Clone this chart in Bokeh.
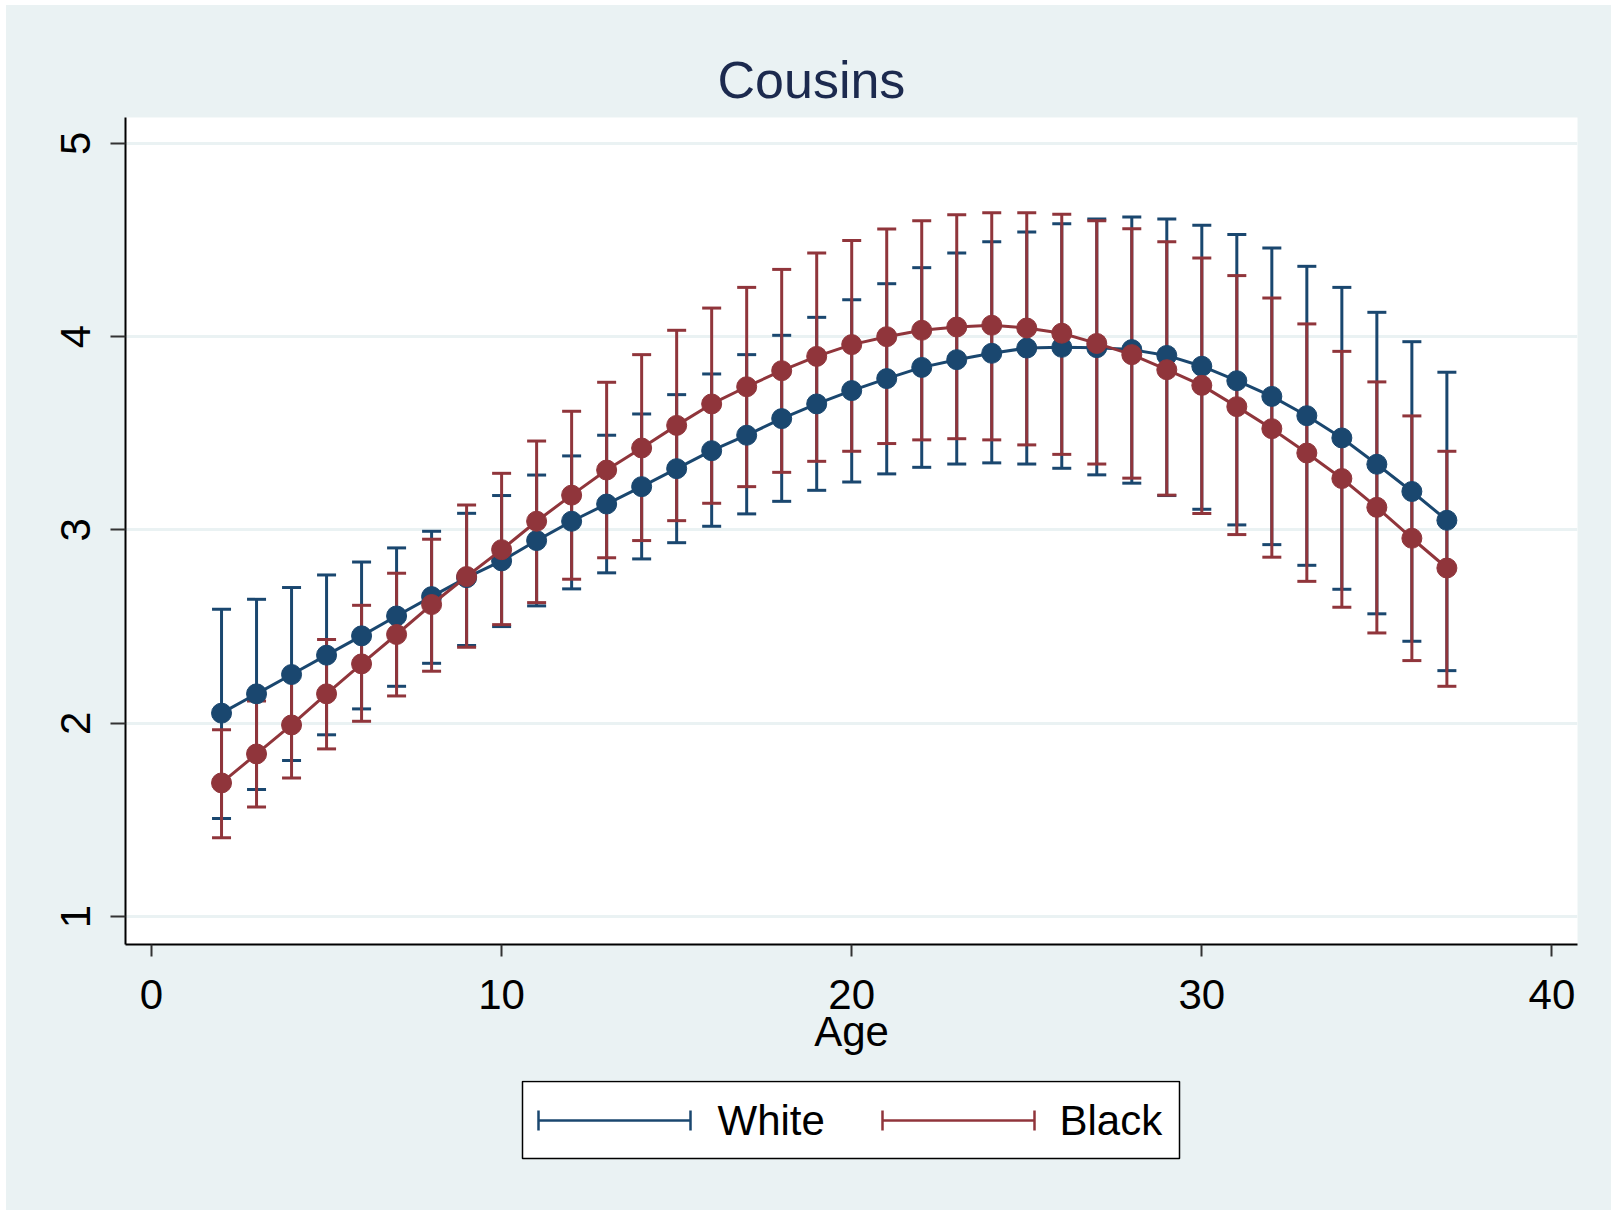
from bokeh.plotting import figure
from bokeh.models import Range1d, FixedTicker, ColumnDataSource
from bokeh.layouts import column
from bokeh.embed import file_html
from bokeh.resources import INLINE
from bokeh.core.properties import value

# ---------------- data ----------------
age = list(range(2, 38))

white_mean = [2.052, 2.152, 2.252, 2.352, 2.452, 2.555, 2.655, 2.753, 2.840, 2.945,
              3.045, 3.134, 3.224, 3.317, 3.410, 3.490, 3.576, 3.652, 3.721, 3.783,
              3.841, 3.881, 3.914, 3.941, 3.945, 3.943, 3.933, 3.903, 3.847, 3.772,
              3.691, 3.591, 3.476, 3.340, 3.199, 3.050]
white_hi = [2.590, 2.641, 2.702, 2.767, 2.834, 2.907, 2.993, 3.086, 3.178, 3.284,
            3.383, 3.490, 3.600, 3.700, 3.807, 3.907, 4.007, 4.100, 4.191, 4.274,
            4.357, 4.433, 4.491, 4.541, 4.584, 4.609, 4.619, 4.609, 4.576, 4.528,
            4.459, 4.364, 4.255, 4.126, 3.974, 3.816]
white_lo = [1.507, 1.657, 1.807, 1.940, 2.074, 2.191, 2.310, 2.402, 2.500, 2.607,
            2.695, 2.778, 2.850, 2.934, 3.019, 3.083, 3.148, 3.205, 3.248, 3.290,
            3.324, 3.341, 3.347, 3.341, 3.319, 3.285, 3.242, 3.178, 3.107, 3.026,
            2.924, 2.817, 2.693, 2.566, 2.424, 2.272]

black_mean = [1.691, 1.841, 1.991, 2.152, 2.307, 2.459, 2.614, 2.759, 2.898, 3.045,
              3.180, 3.310, 3.424, 3.541, 3.652, 3.741, 3.824, 3.898, 3.959, 4.000,
              4.033, 4.050, 4.059, 4.045, 4.018, 3.965, 3.907, 3.829, 3.748, 3.638,
              3.524, 3.398, 3.266, 3.117, 2.957, 2.803]
black_hi = [1.966, 2.115, 2.266, 2.433, 2.610, 2.776, 2.952, 3.129, 3.293, 3.460,
            3.614, 3.764, 3.907, 4.033, 4.148, 4.255, 4.348, 4.433, 4.498, 4.557,
            4.600, 4.631, 4.641, 4.641, 4.633, 4.600, 4.559, 4.491, 4.407, 4.316,
            4.200, 4.066, 3.924, 3.766, 3.590, 3.407]
black_lo = [1.407, 1.566, 1.716, 1.867, 2.010, 2.141, 2.269, 2.393, 2.510, 2.624,
            2.745, 2.856, 2.945, 3.048, 3.138, 3.224, 3.298, 3.355, 3.407, 3.447,
            3.466, 3.472, 3.466, 3.440, 3.391, 3.341, 3.268, 3.180, 3.085, 2.976,
            2.859, 2.734, 2.600, 2.467, 2.324, 2.191]

x_ticks = [0, 10, 20, 30, 40]
y_ticks = [1, 2, 3, 4, 5]
series_names = ["White", "Black"]
title_text = "Cousins"
x_label = "Age"

# ---------------- style ----------------
NAVY = "#1A476F"
MAROON = "#90353B"
BG = "#EAF2F3"
FONT = "Liberation Sans"

src_w = ColumnDataSource(dict(x=age, m=white_mean, lo=white_lo, hi=white_hi))
src_b = ColumnDataSource(dict(x=age, m=black_mean, lo=black_lo, hi=black_hi))

MAIN_H = 1075
p = figure(width=1605, height=MAIN_H, output_backend="svg", toolbar_location=None,
           x_range=Range1d(-0.743, 40.731), y_range=Range1d(0.855, 5.134),
           min_border_left=119, min_border_right=34, min_border_top=112,
           min_border_bottom=MAIN_H - 939)
p.background_fill_color = "white"
p.border_fill_color = BG
p.outline_line_color = None

p.title.text = title_text
p.title.align = "left"
p.title.offset = 592
p.title.standoff = 17
p.title.text_font = FONT
p.title.text_font_size = "52px"
p.title.text_font_style = "normal"
p.title.text_color = "#1c2a4e"

for ax in (p.xaxis[0], p.yaxis[0]):
    ax.axis_line_color = "black"
    ax.axis_line_width = 2
    ax.major_tick_line_color = "#333333"
    ax.major_tick_line_width = 2
    ax.major_tick_in = 0
    ax.minor_tick_line_color = None
    ax.major_label_text_font = FONT
    ax.major_label_text_font_size = "42px"
    ax.major_label_text_color = "black"

p.xaxis.ticker = FixedTicker(ticks=x_ticks)
p.xaxis.major_tick_out = 12
p.xaxis.major_label_standoff = 23
p.xaxis.axis_label = x_label
p.xaxis.axis_label_text_font = FONT
p.xaxis.axis_label_text_font_size = "42px"
p.xaxis.axis_label_text_font_style = "normal"
p.xaxis.axis_label_text_color = "black"
p.xaxis.axis_label_standoff = -4

p.yaxis.ticker = FixedTicker(ticks=y_ticks)
p.yaxis.major_tick_out = 15
p.yaxis.major_label_standoff = 20
p.yaxis.major_label_orientation = "vertical"

p.xgrid.visible = False
p.ygrid.ticker = FixedTicker(ticks=y_ticks)
p.ygrid.grid_line_color = BG
p.ygrid.grid_line_width = 3

# error bars: white first, then black
for src, col in ((src_w, NAVY), (src_b, MAROON)):
    p.segment(x0="x", y0="lo", x1="x", y1="hi", source=src, line_color=col, line_width=3)
    p.scatter(x="x", y="hi", source=src, marker="dash", size=19, line_color=col, line_width=3)
    p.scatter(x="x", y="lo", source=src, marker="dash", size=19, line_color=col, line_width=3)

for src, col in ((src_w, NAVY), (src_b, MAROON)):
    p.line(x="x", y="m", source=src, line_color=col, line_width=3)
    p.scatter(x="x", y="m", source=src, marker="circle", size=20,
              fill_color=col, line_color=col, line_width=1)

# ---------------- legend panel ----------------
# pixel coordinates relative to the figure (frame aligned with main plot's frame)
LEG_H = 1205 - MAIN_H
leg = figure(width=1605, height=LEG_H, output_backend="svg", toolbar_location=None,
             x_range=Range1d(119, 1571), y_range=Range1d(LEG_H, 0),
             x_axis_type=None, y_axis_type=None,
             min_border_left=119, min_border_right=34,
             min_border_top=0, min_border_bottom=0)
leg.background_fill_color = BG
leg.border_fill_color = BG
leg.outline_line_color = None
leg.xgrid.visible = False
leg.ygrid.visible = False

top0 = 1080 - 5 - MAIN_H  # legend box top, relative to this panel
leg.quad(left=[516], right=[1173], top=[top0 + 1], bottom=[top0 + 78], fill_color="white",
         line_color="black", line_width=1.5)
yc = top0 + 40
sym_x0 = [532, 876]
sym_x1 = [684, 1028]
lab_x = [711, 1053]
cols = [NAVY, MAROON]
leg.segment(x0=sym_x0, y0=[yc, yc], x1=sym_x1, y1=[yc, yc], line_color=cols, line_width=2.5)
leg.segment(x0=sym_x0, y0=[yc - 10, yc - 10], x1=sym_x0, y1=[yc + 10, yc + 10],
            line_color=cols, line_width=2.5)
leg.segment(x0=sym_x1, y0=[yc - 10, yc - 10], x1=sym_x1, y1=[yc + 10, yc + 10],
            line_color=cols, line_width=2.5)
leg.text(x=lab_x, y=[yc, yc], text=series_names, text_baseline="middle",
         text_align="left", text_font=value(FONT), text_font_size="42px",
         text_color="black")

layout = column(p, leg, spacing=0, margin=(5, 0, 0, 6),
                styles={"background-color": BG})

open("out.html", "w").write(file_html(layout, INLINE))
